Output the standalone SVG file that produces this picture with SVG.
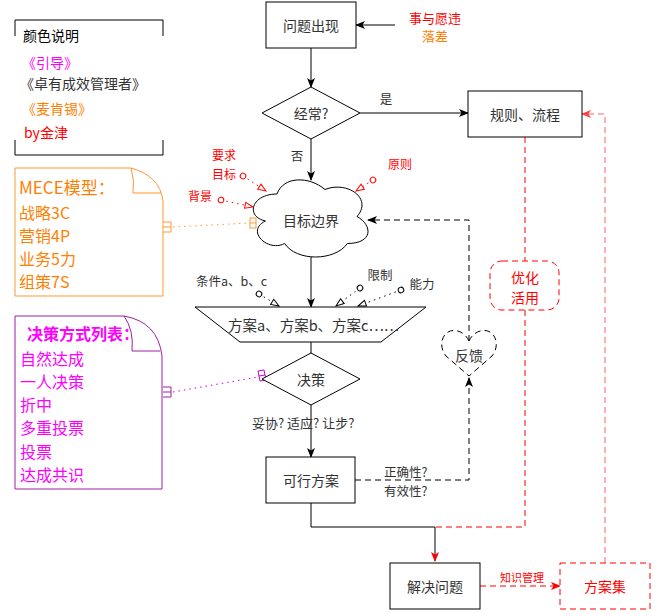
<svg xmlns="http://www.w3.org/2000/svg" width="658" height="614" viewBox="0 0 658 614">
<defs>
<style>
text{font-family:"Noto Sans CJK SC","Liberation Sans",sans-serif;dominant-baseline:central}
.n{fill:#fff;stroke:#000;stroke-width:1}
.t14{font-size:14px;fill:#333;text-anchor:middle}
.s12{font-size:12.5px;fill:#333}
.r12{font-size:12px;fill:#f00}
.ln{fill:none;stroke:#000;stroke-width:1}
.dash{fill:none;stroke:#000;stroke-dasharray:6 4}
.rdash{fill:none;stroke:#f00;stroke-dasharray:6 4}
.dotr{fill:none;stroke:#f00;stroke-dasharray:1.5 4}
.dotk{fill:none;stroke:#000;stroke-dasharray:1.5 4}
.orange{font-size:16px;fill:#FF8000}
.mag{font-size:16px;fill:#FF00FF}
</style>
<marker id="ak" viewBox="0 0 10 8" refX="9" refY="4" markerWidth="10" markerHeight="8" markerUnits="userSpaceOnUse" orient="auto"><path d="M0,0 L10,4 L0,8 L2.5,4 z" fill="#000"/></marker>
<marker id="ar" viewBox="0 0 10 8" refX="9" refY="4" markerWidth="10" markerHeight="8" markerUnits="userSpaceOnUse" orient="auto"><path d="M0,0 L10,4 L0,8 L2.5,4 z" fill="#f00"/></marker>
<marker id="arl" viewBox="0 0 10 8" refX="9" refY="4" markerWidth="10" markerHeight="8" markerUnits="userSpaceOnUse" orient="auto"><path d="M0,0 L10,4 L0,8 L2.5,4 z" fill="#FF4040"/></marker>
<marker id="triR" viewBox="0 0 10 8" refX="9" refY="4" markerWidth="10" markerHeight="8" markerUnits="userSpaceOnUse" orient="auto"><path d="M1,1 L9,4 L1,7 z" fill="#fff" stroke="#f00"/></marker>
<marker id="triK" viewBox="0 0 10 8" refX="9" refY="4" markerWidth="10" markerHeight="8" markerUnits="userSpaceOnUse" orient="auto"><path d="M1,1 L9,4 L1,7 z" fill="#fff" stroke="#000"/></marker>
<marker id="ovR" viewBox="0 0 8 8" refX="4" refY="4" markerWidth="8" markerHeight="8" markerUnits="userSpaceOnUse" orient="auto"><circle cx="4" cy="4" r="2.8" fill="#fff" stroke="#f00"/></marker>
<marker id="ovK" viewBox="0 0 8 8" refX="4" refY="4" markerWidth="8" markerHeight="8" markerUnits="userSpaceOnUse" orient="auto"><circle cx="4" cy="4" r="2.8" fill="#fff" stroke="#000"/></marker>
</defs>
<rect width="658" height="614" fill="#fff"/>

<g id="legend">
<path d="M15,36 V20 H163 V36 M15,140 V155 H163 V140" fill="none" stroke="#000"/>
<text x="23" y="35" style="font-size:14px;fill:#000">颜色说明</text>
<text x="22" y="62" style="font-size:14px;fill:#FF00FF">《引导》</text>
<text x="20" y="83" style="font-size:14px;fill:#333">《卓有成效管理者》</text>
<text x="22" y="108" style="font-size:14px;fill:#FF8000">《麦肯锡》</text>
<text x="24" y="132" style="font-size:14px;fill:#f00">by金津</text>
</g>

<g id="mece">
<path d="M15,168 H131 Q160,176 163,201 V296 H15 Z" fill="#fff" stroke="#FF9933"/>
<path d="M131,168 Q135,181 133,193 H161" fill="none" stroke="#FF9933"/>
<text x="19" y="186" class="orange" style="font-size:17px">MECE模型：</text>
<text x="19" y="212" class="orange">战略3C</text>
<text x="19" y="235" class="orange">营销4P</text>
<text x="19" y="258" class="orange">业务5力</text>
<text x="19" y="281" class="orange">组策7S</text>
</g>

<g id="decision-list">
<path d="M15,316 H124 Q158,322 162,356 V489 H15 Z" fill="#fff" stroke="#A0209F"/>
<path d="M124,316 Q134,330 132,351 H160" fill="none" stroke="#A0209F"/>
<text x="27" y="333" class="mag" style="font-weight:bold">决策方式列表：</text>
<text x="20" y="358" class="mag">自然达成</text>
<text x="20" y="381" class="mag">一人决策</text>
<text x="20" y="404" class="mag">折中</text>
<text x="20" y="427" class="mag">多重投票</text>
<text x="20" y="451" class="mag">投票</text>
<text x="20" y="474" class="mag">达成共识</text>
</g>

<g id="connectors">
<path d="M395,25 H356" class="ln" marker-end="url(#ak)"/>
<path d="M311,48 V87" class="ln" marker-end="url(#ak)"/>
<path d="M360,113 H468" class="ln" marker-end="url(#ak)"/>
<path d="M311,139 V180" class="ln" marker-end="url(#ak)"/>
<path d="M311,257 V307" class="ln" marker-end="url(#ak)"/>
<path d="M311,342 V353" class="ln"/>
<path d="M311,405 V457" class="ln" marker-end="url(#ak)"/>
<path d="M243,176 L266,191" class="dotr" marker-start="url(#ovR)" marker-end="url(#triR)"/>
<path d="M221,200 L253,207" class="dotr" marker-start="url(#ovR)" marker-end="url(#triR)"/>
<path d="M373,180 L356,191" class="dotr" marker-start="url(#ovR)" marker-end="url(#triR)"/>
<path d="M259,294 L279,306" class="dotk" marker-start="url(#ovK)" marker-end="url(#triK)"/>
<path d="M360,288 L336,306" class="dotk" marker-start="url(#ovK)" marker-end="url(#triK)"/>
<path d="M401,290 L358,306" class="dotk" marker-start="url(#ovK)" marker-end="url(#triK)"/>
<path d="M173,227 L250,223" fill="none" stroke="#FF9933" stroke-dasharray="1.5 4"/>
<path d="M163,222 H171 V232 H163 M163,227 H171" fill="none" stroke="#FF9933"/>
<rect x="250" y="218" width="6" height="10" fill="#fff" stroke="#FF9933"/>
<path d="M250,223 H256" stroke="#FF9933"/>
<path d="M173,392 L258,377" fill="none" stroke="#CC00CC" stroke-dasharray="1.5 4"/>
<path d="M163,387 H171 V397 H163 M163,392 H171" fill="none" stroke="#A0209F"/>
<path d="M258,371 L264,370 L266,380 L260,381 Z M259,376 L265,375" fill="#fff" stroke="#CC00CC"/>
<path d="M355,480 H469 V378" class="dash" marker-end="url(#ak)"/>
<path d="M469,341 V220 H368" class="dash" marker-end="url(#ak)"/>
<path d="M525,137 V261 M525,310 V527 H435" class="rdash"/>
<path d="M311,503 V527 H435 V561" class="ln" marker-end="url(#ar)"/>
<path d="M480,586 H560" class="rdash" marker-end="url(#ar)"/>
<path d="M605,563 V114 H582" fill="none" stroke="#FF4040" stroke-opacity="0.8" stroke-dasharray="6 4" marker-end="url(#arl)"/>
</g>

<g id="labels">
<text x="435" y="17" style="font-size:13px;fill:#f00;text-anchor:middle">事与愿违</text>
<text x="435" y="35" style="font-size:13px;fill:#FF8000;text-anchor:middle">落差</text>
<text x="386" y="98" class="s12" text-anchor="middle">是</text>
<text x="297" y="155" class="s12" text-anchor="middle">否</text>
<text x="224" y="154" class="r12" text-anchor="middle">要求</text>
<text x="224" y="173" class="r12" text-anchor="middle">目标</text>
<text x="200" y="195" class="r12" text-anchor="middle">背景</text>
<text x="400" y="163" class="r12" text-anchor="middle">原则</text>
<text x="196" y="280" class="s12">条件a、b、c</text>
<text x="380" y="274" class="s12" text-anchor="middle">限制</text>
<text x="422" y="283" class="s12" text-anchor="middle">能力</text>
<text x="252" y="422" class="s12" style="font-size:13px">妥协? 适应? 让步?</text>
<text x="384" y="471" class="s12">正确性?</text>
<text x="384" y="490" class="s12">有效性?</text>
<text x="522" y="577" style="font-size:11px;fill:#f00;text-anchor:middle">知识管理</text>
</g>

<g id="problem">
<rect x="266" y="2" width="90" height="46" class="n"/>
<text x="311" y="25" class="t14">问题出现</text>
</g>

<g id="often">
<polygon points="311,87 360,113 311,139 262,113" class="n"/>
<text x="311" y="113" class="t14">经常?</text>
</g>

<g id="rules">
<rect x="468" y="91" width="114" height="46" class="n"/>
<text x="525" y="114" class="t14">规则、流程</text>
</g>

<g id="goal-boundary">
<path transform="translate(245,171.5) scale(128,90)" vector-effect="non-scaling-stroke" d="M0.25,0.25 C0.05,0.25 0,0.5 0.16,0.55 C0,0.66 0.18,0.9 0.31,0.8 C0.4,1 0.7,1 0.8,0.8 C1,0.8 1,0.6 0.875,0.5 C1,0.3 0.8,0.1 0.625,0.2 C0.5,0.05 0.3,0.05 0.25,0.25 Z" fill="#fff" stroke="#000" stroke-width="1"/>
<text x="311" y="220" class="t14">目标边界</text>
</g>

<g id="options">
<polygon points="195,307 426,307 381,342 240,342" class="n"/>
<text x="228" y="324" style="font-size:14.5px;fill:#333">方案a、方案b、方案c……</text>
</g>

<g id="decide">
<polygon points="311,353 360,379 311,405 262,379" class="n"/>
<text x="311" y="379" class="t14">决策</text>
</g>

<g id="feasible">
<rect x="266" y="457" width="89" height="46" class="n"/>
<text x="311" y="480" class="t14">可行方案</text>
</g>

<g id="feedback">
<path d="M469,341 C465,332 455,328 448,332 C440,337 440,349 446,356 L469,376 L492,356 C498,349 498,337 490,332 C483,328 473,332 469,341 Z" fill="#fff" stroke="#000" stroke-dasharray="6 4"/>
<text x="469" y="355" class="t14">反馈</text>
</g>

<g id="optimize">
<rect x="490" y="261" width="69" height="49" rx="12" fill="#fff" stroke="#f00" stroke-dasharray="6 4"/>
<text x="525" y="277" style="font-size:14px;fill:#f00;text-anchor:middle">优化</text>
<text x="525" y="297" style="font-size:14px;fill:#f00;text-anchor:middle">活用</text>
</g>

<g id="solve">
<rect x="390" y="563" width="90" height="46" class="n"/>
<text x="435" y="586" class="t14">解决问题</text>
</g>

<g id="solution-set">
<rect x="560" y="563" width="90" height="46" fill="#fff" stroke="#f00" stroke-dasharray="6 4"/>
<text x="605" y="586" style="font-size:14px;fill:#f00;text-anchor:middle">方案集</text>
</g>
</svg>
